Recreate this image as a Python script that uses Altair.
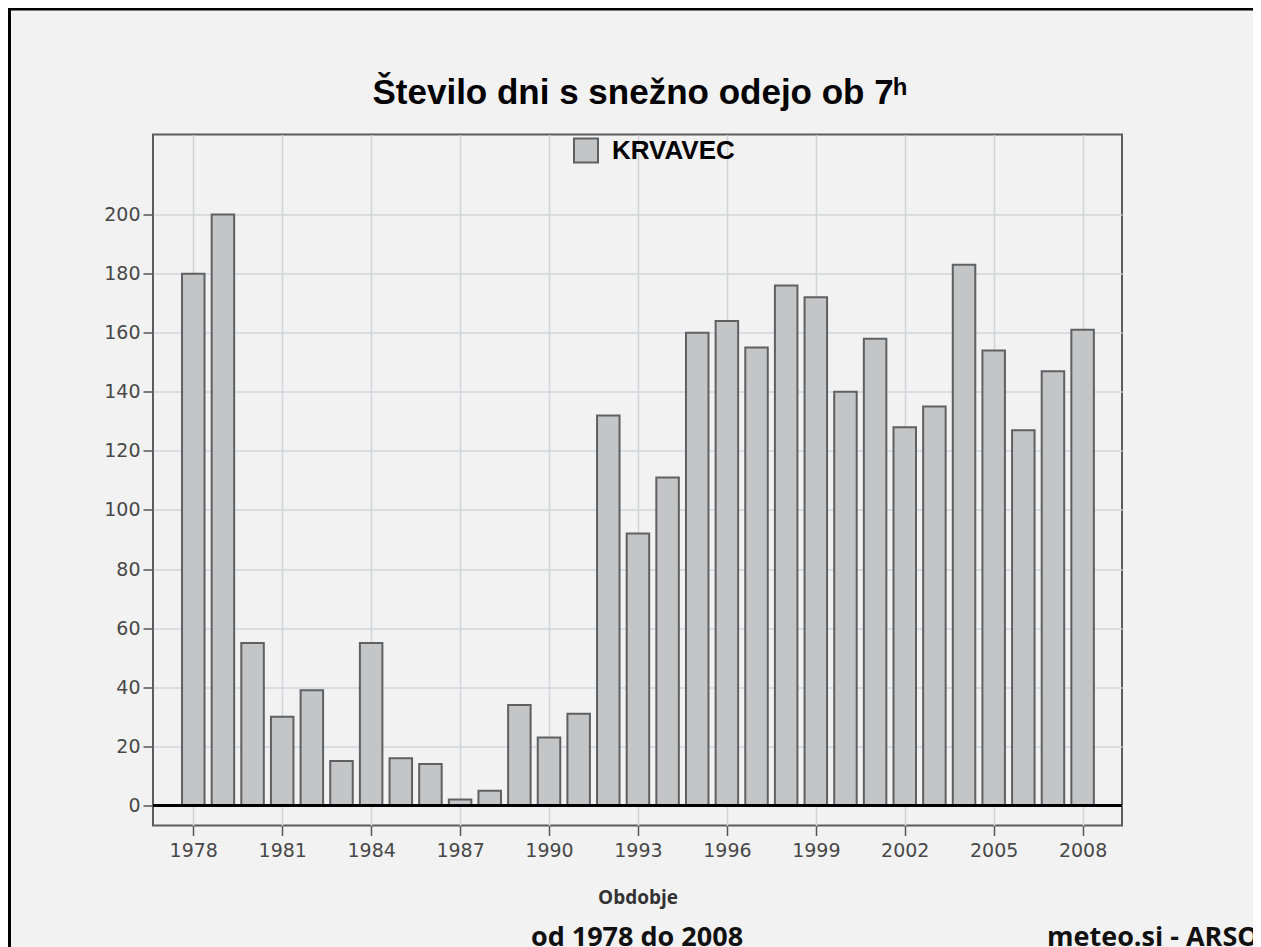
import altair as alt
import pandas as pd

# ---- data ----
years = list(range(1978, 2009))
snow_days = [180, 200, 55, 30, 39, 15, 55, 16, 14, 2, 5, 34, 23, 31,
             132, 92, 111, 160, 164, 155, 176, 172, 140, 158, 128, 135,
             183, 154, 127, 147, 161]
station = ["KRVAVEC"] * len(years)
x_tick_years = list(range(1978, 2009, 3))
y_tick_values = list(range(0, 201, 20))
title_text = "Število dni s snežno odejo ob 7ʰ"
x_title = "Obdobje"
period_text = ["od 1978 do 2008"]
source_text = ["meteo.si - ARSO"]

df = pd.DataFrame({"year": years, "days": snow_days, "station": station})

W, H = 969, 691
BG = "#f2f2f2"
GRID = "#d2d4d8"

x_enc = alt.X(
    "year:Q",
    scale=alt.Scale(domain=[1976.81, 2009.16], nice=False, zero=False),
    axis=alt.Axis(
        values=x_tick_years, format="d", title=x_title,
        grid=True, gridColor=GRID, gridWidth=1.5, domain=False,
        tickColor="#555555", tickSize=10, tickWidth=1.5,
        labelFont="DejaVu Sans", labelFontSize=19, labelColor="#484848",
        labelPadding=6, labelFlush=False, labelOverlap=False,
        titleFont="Open Sans", titleFontSize=19, titleFontWeight="bold",
        titleColor="#333333", titleY=78, titleBaseline="alphabetic",
    ),
)
y_enc = alt.Y(
    "days:Q",
    scale=alt.Scale(domain=[-6.8, 227.1], nice=False, zero=False),
    axis=alt.Axis(
        values=y_tick_values, title=None,
        grid=True, gridColor=GRID, gridWidth=1.5, domain=False,
        tickColor="#555555", tickSize=10, tickWidth=1.5,
        labelFont="DejaVu Sans", labelFontSize=19, labelColor="#484848",
        labelPadding=3,
    ),
)

bars = alt.Chart(df).mark_bar(width=22.5, stroke="#606060", strokeWidth=2).encode(
    x=x_enc,
    y=y_enc,
    y2=alt.datum(0),
    color=alt.Color(
        "station:N",
        scale=alt.Scale(range=["#c4c5c7"]),
        legend=alt.Legend(
            title=None, orient="none", legendX=420, legendY=3, padding=0,
            symbolType="square", symbolSize=576, symbolStrokeColor="#606060",
            symbolStrokeWidth=2, symbolOpacity=1,
            labelFont="Liberation Sans", labelFontSize=26, labelFontWeight="bold",
            labelColor="#000000", labelOffset=13,
        ),
    ),
)

zero_df = pd.DataFrame({"z": [0]})
zero_line = alt.Chart(zero_df).mark_rule(color="#000000", strokeWidth=3).encode(
    y=alt.datum(0)
)

top_border = alt.Chart(zero_df).mark_rule(color="#000000", strokeWidth=3).encode(
    x=alt.value(-145), x2=alt.value(1100), y=alt.value(-125.5)
)
left_border = alt.Chart(zero_df).mark_rule(color="#000000", strokeWidth=3).encode(
    x=alt.value(-143.5), y=alt.value(-125.5), y2=alt.value(830)
)

period = alt.Chart(pd.DataFrame({"t": period_text})).mark_text(
    font="Open Sans", fontSize=27, fontWeight="bold", color="#111111",
    align="center", baseline="alphabetic",
).encode(text="t:N", x=alt.value(484), y=alt.value(811.5))

source = alt.Chart(pd.DataFrame({"t": source_text})).mark_text(
    font="Open Sans", fontSize=27, fontWeight="bold", color="#111111",
    align="left", baseline="alphabetic",
).encode(text="t:N", x=alt.value(894), y=alt.value(811.5))

chart = alt.layer(bars, zero_line, top_border, left_border, period, source).properties(
    width=W,
    height=H,
    title=alt.TitleParams(
        title_text, font="Liberation Sans", fontSize=35, fontWeight="bold",
        color="#000000", anchor="middle", baseline="alphabetic", offset=-131,
        frame="group", dx=2,
    ),
    background=BG,
    padding={"left": 145, "top": 126.5, "right": 131, "bottom": 129.5},
    autosize=alt.AutoSizeParams(type="none"),
).configure_view(stroke="#5c5c5c", strokeWidth=2)

chart.save("out.html", embed_options={"renderer": "svg", "actions": False})
